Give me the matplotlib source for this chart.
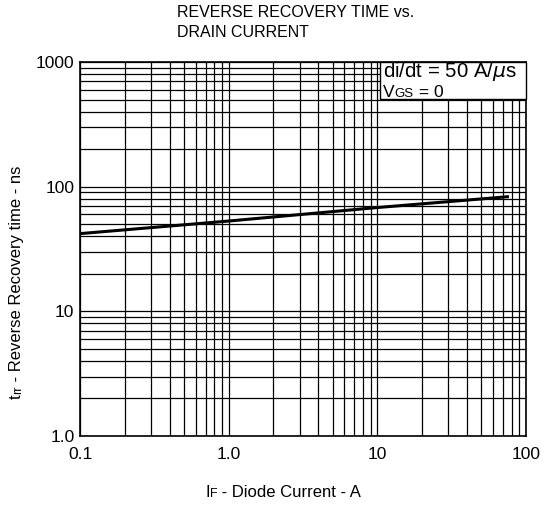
import numpy as np
import matplotlib.pyplot as plt
from matplotlib.patches import Rectangle
from matplotlib.ticker import FixedLocator, NullFormatter, LogLocator

plt.rcParams['font.family'] = ['Liberation Sans', 'DejaVu Sans']

# data
current_a = [0.1, 1.0, 10.0, 75.0]
trr_ns = [42, 53, 68, 83]

x_ticks = [0.1, 1, 10, 100]
x_labels = ['0.1', '1.0', '10', '100']
y_ticks = [1, 10, 100, 1000]
y_labels = ['1.0', '10', '100', '1000']

fig = plt.figure(figsize=(5.47, 5.08), dpi=100)
ax = fig.add_axes([0.1463, 0.1417, 0.8153, 0.7363])

ax.set_xscale('log')
ax.set_yscale('log')
ax.set_xlim(0.1, 100)
ax.set_ylim(1, 1000)

ax.xaxis.set_major_locator(FixedLocator(x_ticks))
ax.xaxis.set_minor_locator(LogLocator(base=10, subs=np.arange(2, 10)))
ax.xaxis.set_minor_formatter(NullFormatter())
ax.set_xticks(x_ticks, x_labels)
ax.yaxis.set_major_locator(FixedLocator(y_ticks))
ax.yaxis.set_minor_locator(LogLocator(base=10, subs=np.arange(2, 10)))
ax.yaxis.set_minor_formatter(NullFormatter())
ax.set_yticks(y_ticks, y_labels)

ax.grid(True, which='both', color='black', linewidth=0.9)
ax.tick_params(which='both', length=0, labelsize=12.5)
ax.tick_params(axis='x', pad=8)
ax.tick_params(axis='y', pad=4)
for s in ax.spines.values():
    s.set_linewidth(1.2)

ax.plot(current_a, trr_ns, color='black', linewidth=2.2)

# annotation box
ax.add_patch(Rectangle((0.673, 0.902), 0.327, 0.098, transform=ax.transAxes,
                       facecolor='white', edgecolor='black', linewidth=1.0, zorder=5,
                       clip_on=False))
ax.text(0.679, 0.96, 'di/dt = 50 A/$\\mu$s', transform=ax.transAxes,
        ha='left', va='baseline', fontsize=14.7, zorder=6)
v1 = ax.text(0.679, 0.907, 'V', transform=ax.transAxes, fontsize=12.5, va='baseline', zorder=6)
v2 = ax.annotate('GS', xy=(1, 0), xycoords=v1, fontsize=9.5, va='bottom', zorder=6)
ax.annotate(' = 0', xy=(1, 0), xycoords=v2, fontsize=12.5, va='bottom', zorder=6)

# title
fig.text(0.324, 0.922, 'REVERSE RECOVERY TIME vs.\nDRAIN CURRENT', ha='left', va='bottom',
         fontsize=11.5, linespacing=1.4)

# x label with small subscript
xl1 = fig.text(0.375, 0.015, 'I', fontsize=12, ha='left', va='bottom')
xl2 = fig.add_artist(plt.Annotation('F', xy=(1, 0), xycoords=xl1, fontsize=9, va='bottom'))
fig.add_artist(plt.Annotation(' - Diode Current - A', xy=(1, 0), xycoords=xl2, fontsize=12,
                              va='bottom'))

# y label with small subscript
yl1 = fig.text(0.016, 0.215, 't', fontsize=12, rotation=90, ha='left', va='bottom')
yl2 = fig.add_artist(plt.Annotation('rr', xy=(1, 1), xycoords=yl1, fontsize=9, rotation=90,
                                    ha='right', va='bottom'))
fig.add_artist(plt.Annotation(' - Reverse Recovery time - ns', xy=(1, 1), xycoords=yl2,
                              fontsize=12, rotation=90, ha='right', va='bottom'))

fig.savefig('out.png', dpi=100)
